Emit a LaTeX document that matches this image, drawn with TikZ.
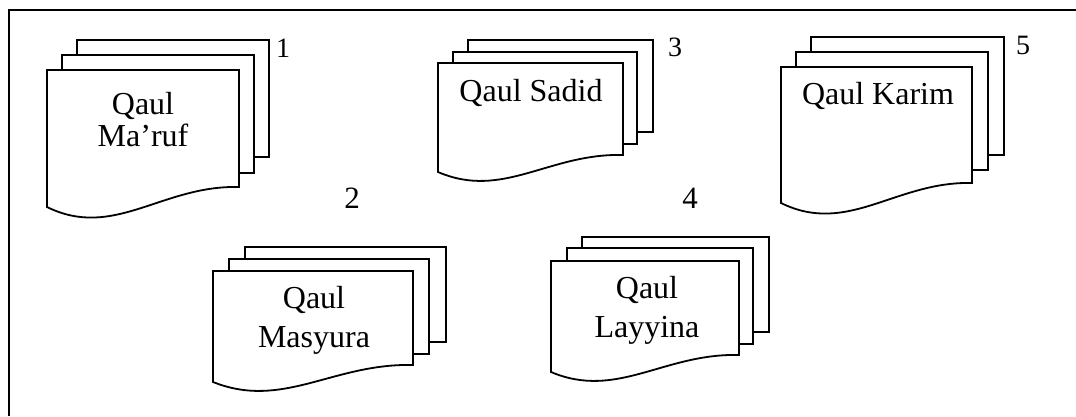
\documentclass[tikz,border=0pt]{standalone}
\usepackage{fontspec}
\setmainfont{Liberation Serif}
\begin{document}
\begin{tikzpicture}[x=1pt,y=-1pt,
  sheet/.style={draw=black,fill=white,line width=1.8pt,line join=miter},
  frameline/.style={draw=black,line width=2.2pt},
  lbl/.style={font=\fontsize{32}{36}\selectfont,inner sep=0pt,anchor=base,align=center},
  num/.style={font=\fontsize{28}{30}\selectfont,inner sep=0pt}]
\useasboundingbox (0,0) rectangle (1076,416);
% outer frame (top and left edges)
\coordinate (fTL) at (9,10);
\coordinate (fTR) at (1076,10);
\coordinate (fBL) at (9,416);
\draw[frameline] (fBL) -- (fTL) -- (fTR);

% ---- document 1
\draw[sheet] (77,40) rectangle (269,157);
\draw[sheet] (62,55) rectangle (254,173);
\draw[sheet] (47,70) -- (239,70) -- (239,187) .. controls (162,185) and (114,240) .. (47,207) -- cycle;
\node[lbl,font=\fontsize{32}{32}\selectfont] (t1) at (143,146) {Qaul\\Ma’ruf};
\node[num] (n1) at (283,48) {1};

% ---- document 3
\draw[sheet] (468,40) rectangle (653,132);
\draw[sheet] (453,52) rectangle (637,144);
\draw[sheet] (438,63) -- (623,63) -- (623,155) .. controls (549,153) and (503,200) .. (438,172) -- cycle;
\node[lbl] (t3) at (531,101) {Qaul Sadid};
\node[num] (n3) at (675,47) {3};

% ---- document 5
\draw[sheet] (811,37) rectangle (1004,155);
\draw[sheet] (796,52) rectangle (988,170);
\draw[sheet] (781,67) -- (972,67) -- (972,183) .. controls (896,181) and (848,236) .. (781,203) -- cycle;
\node[lbl] (t5) at (878,104) {Qaul Karim};
\node[num] (n5) at (1023,45) {5};

% ---- document 2
\draw[sheet] (245,247) rectangle (446,342);
\draw[sheet] (229,259) rectangle (429,354);
\draw[sheet] (213,271) -- (413,271) -- (413,365) .. controls (333,363) and (283,410) .. (213,382) -- cycle;
\node[lbl,font=\fontsize{32}{39}\selectfont] (t2) at (314,347) {Qaul\\Masyura};
\node[num,font=\fontsize{31}{32}\selectfont] (n2) at (352,198) {2};

% ---- document 4
\draw[sheet] (582,237) rectangle (769,332);
\draw[sheet] (567,248) rectangle (753,344);
\draw[sheet] (551,261) -- (739,261) -- (739,355) .. controls (664,353) and (617,400) .. (551,372) -- cycle;
\node[lbl,font=\fontsize{32}{39}\selectfont] (t4) at (647,337) {Qaul\\Layyina};
\node[num,font=\fontsize{31}{32}\selectfont] (n4) at (690,198) {4};
\end{tikzpicture}
\end{document}
